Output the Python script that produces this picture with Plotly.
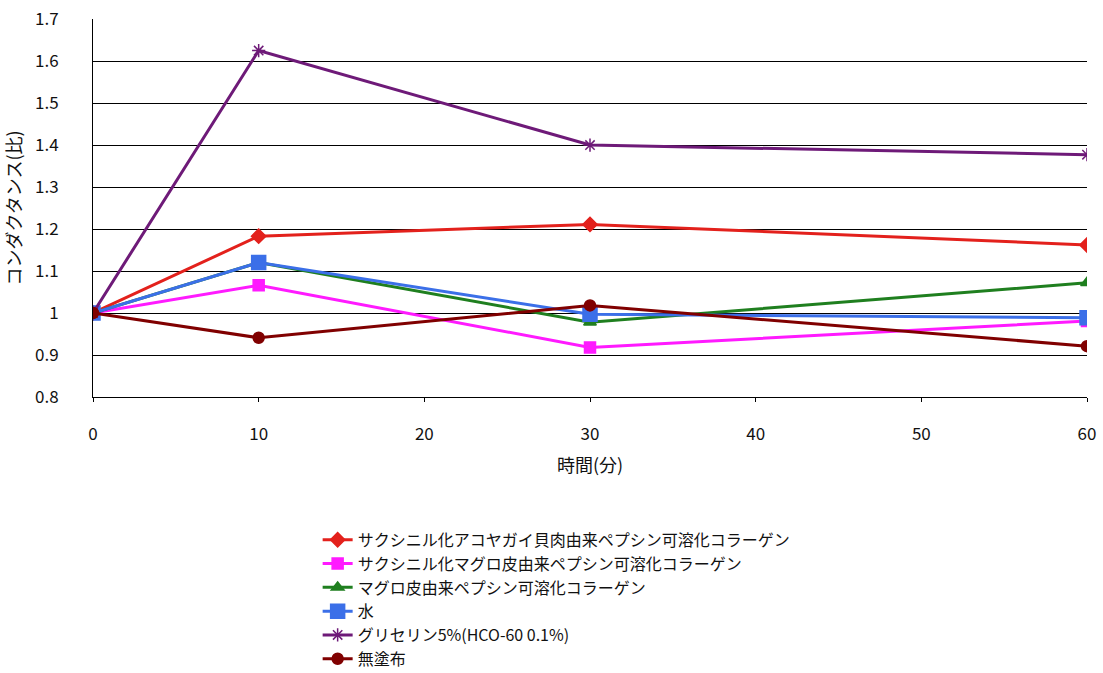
import plotly.graph_objects as go

times = [0, 10, 30, 60]
names = [
    "サクシニル化アコヤガイ貝肉由来ペプシン可溶化コラーゲン",
    "サクシニル化マグロ皮由来ペプシン可溶化コラーゲン",
    "マグロ皮由来ペプシン可溶化コラーゲン",
    "水",
    "グリセリン5%(HCO-60 0.1%)",
    "無塗布",
]
akoya = [1.0, 1.183, 1.211, 1.162]
succ_tuna = [1.0, 1.066, 0.918, 0.981]
tuna = [1.0, 1.12, 0.978, 1.072]
water = [1.0, 1.12, 0.997, 0.989]
glycerin = [1.0, 1.625, 1.40, 1.377]
untreated = [1.0, 0.941, 1.018, 0.921]

series = [akoya, succ_tuna, tuna, water, glycerin, untreated]
colors = ["#E3211C", "#FF1AFF", "#1F7F1F", "#3B6FE8", "#6E1A78", "#800000"]
symbols = ["diamond", "square", "triangle-up", "square", "asterisk-open", "circle"]
sizes = [11, 11, 11, 14, 11, 11]

fig = go.Figure()
for n, v, c, s, sz in zip(names, series, colors, symbols, sizes):
    fig.add_trace(go.Scatter(
        x=times, y=v, name=n, mode="lines+markers",
        line=dict(color=c, width=3),
        marker=dict(symbol=s, size=sz, color=c, line=dict(color=c, width=1.5)),
    ))

font = "Noto Sans CJK JP"
fig.update_layout(
    width=1103, height=673,
    margin=dict(l=93, r=16, t=19, b=276, autoexpand=False),
    paper_bgcolor="white", plot_bgcolor="white",
    font=dict(family=font, size=16, color="#111111"),
    showlegend=True,
    legend=dict(x=0.226, y=-0.333, xanchor="left", yanchor="top",
                font=dict(size=16, family=font, color="#111111"),
                itemwidth=30, bgcolor="rgba(0,0,0,0)"),
    xaxis=dict(range=[0, 60], dtick=10, showgrid=False, showline=True,
               linecolor="black", linewidth=1, ticks="outside", ticklen=4,
               tickcolor="black", ticklabelstandoff=18, zeroline=False,
               tickfont=dict(size=17),
               title=dict(text="時間(分)", standoff=14, font=dict(size=18))),
    yaxis=dict(range=[0.8, 1.7001], dtick=0.1, showgrid=True, gridcolor="black",
               gridwidth=1, showline=True, linecolor="black", linewidth=1,
               zeroline=False, ticklabelstandoff=30, tickfont=dict(size=17),
               title=dict(text="コンダクタンス(比)", standoff=10, font=dict(size=18))),
)
fig.write_html("out.html")
